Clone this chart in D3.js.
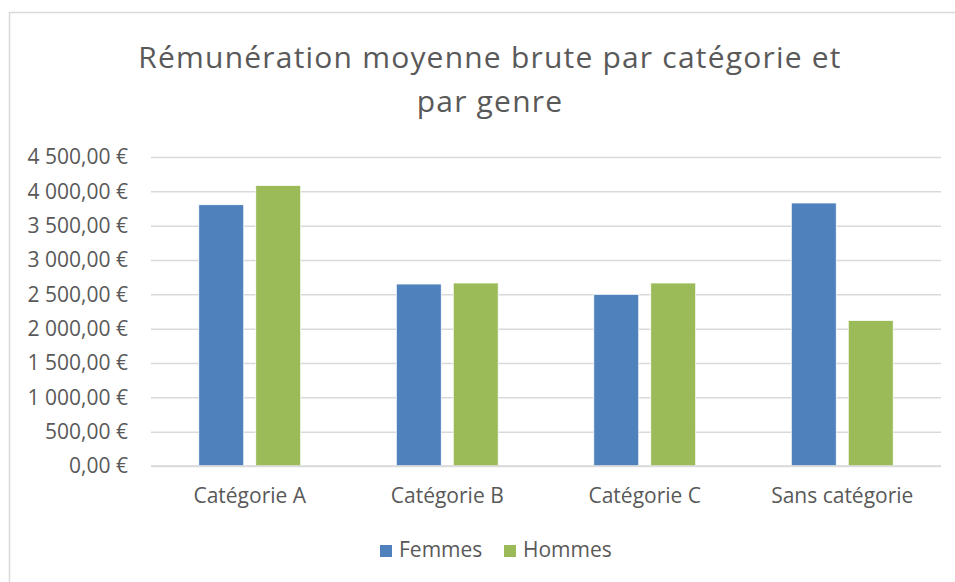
<!DOCTYPE html>
<html>
<head>
<meta charset="utf-8">
<script src="https://cdn.jsdelivr.net/npm/d3@7"></script>
<style>
  html, body { margin: 0; padding: 0; background: #fff; }
  svg { display: block; font-family: "Open Sans", "Noto Sans", sans-serif; }
</style>
</head>
<body>
<svg id="chart" width="955" height="582"></svg>
<script>
'use strict';

// Chart data
var categories = ['Catégorie A', 'Catégorie B', 'Catégorie C', 'Sans catégorie'];
var series_names = ['Femmes', 'Hommes'];
var femmes_values = [3805, 2650, 2500, 3830];
var hommes_values = [4085, 2665, 2665, 2120];
var y_ticks = [0, 500, 1000, 1500, 2000, 2500, 3000, 3500, 4000, 4500];
var title_lines = ['Rémunération moyenne brute par catégorie et', 'par genre'];

var colours = { Femmes: '#4f81bd', Hommes: '#9bbb59' };
var text_colour = '#595959';
var label_size = '21px';

var svg = d3.select('#chart');
var plot = { left: 151, right: 941, top: 157, bottom: 466 };

// Outer chart frame
svg.append('rect')
	.attr('x', 9.5).attr('y', 12.5)
	.attr('width', 960).attr('height', 600)
	.attr('fill', '#fff')
	.attr('stroke', '#d9d9d9')
	.attr('stroke-width', 1.5);

// Title
svg.append('text')
	.attr('x', 490).attr('y', 68)
	.attr('text-anchor', 'middle')
	.attr('fill', text_colour)
	.style('font-size', '30px')
	.style('letter-spacing', '1.2px')
	.selectAll('tspan')
	.data(title_lines)
	.enter().append('tspan')
	.attr('x', 490)
	.attr('dy', function(d, i) { return i === 0 ? 0 : 44; })
	.text(function(d) { return d; });

var y_scale = d3.scaleLinear()
	.domain([0, 4500])
	.range([plot.bottom, plot.top]);

var x_scale = d3.scaleBand()
	.domain(categories)
	.range([plot.left, plot.right])
	.paddingInner(0.484)
	.paddingOuter(0.242);

var x_sub = d3.scaleBand()
	.domain(series_names)
	.range([0, x_scale.bandwidth()])
	.paddingInner(0.211);

// Euro formatting, French style
function euro(v) {
	var parts = v.toFixed(2).split('.');
	var int_part = parts[0].replace(/\B(?=(\d{3})+(?!\d))/g, ' ');
	return int_part + ',' + parts[1] + ' €';
}

// Gridlines and y labels
var y_axis = d3.axisLeft(y_scale)
	.tickValues(y_ticks)
	.tickSize(-(plot.right - plot.left))
	.tickPadding(23)
	.tickFormat(euro);

var y_axis_g = svg.append('g')
	.attr('transform', 'translate(' + plot.left + ',0)')
	.call(y_axis);
y_axis_g.select('.domain').remove();
y_axis_g.selectAll('line')
	.attr('stroke', '#d9d9d9')
	.attr('stroke-width', 1.5);
y_axis_g.selectAll('text')
	.attr('fill', text_colour)
	.style('font-size', label_size)
	.style('font-family', '"Open Sans", sans-serif');

// Bars
var rows = categories.map(function(c, i) {
	return { category: c, values: [
		{ name: 'Femmes', value: femmes_values[i] },
		{ name: 'Hommes', value: hommes_values[i] }
	] };
});

var groups = svg.selectAll('g.group')
	.data(rows)
	.enter().append('g')
	.attr('class', 'group')
	.attr('transform', function(d) { return 'translate(' + x_scale(d.category) + ',0)'; });

groups.selectAll('rect')
	.data(function(d) { return d.values; })
	.enter().append('rect')
	.attr('x', function(d) { return x_sub(d.name); })
	.attr('y', function(d) { return y_scale(d.value); })
	.attr('width', x_sub.bandwidth())
	.attr('height', function(d) { return y_scale(0) - y_scale(d.value); })
	.attr('fill', function(d) { return colours[d.name]; })
	.attr('stroke', '#fff')
	.attr('stroke-width', 0.75);

// Baseline redrawn over the bars
svg.append('line')
	.attr('x1', plot.left).attr('x2', plot.right)
	.attr('y1', y_scale(0)).attr('y2', y_scale(0))
	.attr('stroke', '#d9d9d9')
	.attr('stroke-width', 1.5);

// Category labels
var x_axis = d3.axisBottom(x_scale).tickSize(0).tickPadding(22);
var x_axis_g = svg.append('g')
	.attr('transform', 'translate(0,' + plot.bottom + ')')
	.call(x_axis);
x_axis_g.select('.domain').remove();
x_axis_g.selectAll('text')
	.attr('fill', text_colour)
	.style('font-size', label_size)
	.style('font-family', '"Open Sans", sans-serif');

// Legend
var legend_x = [380, 504];
var legend = svg.selectAll('g.legend')
	.data(series_names)
	.enter().append('g')
	.attr('class', 'legend')
	.attr('transform', function(d, i) { return 'translate(' + legend_x[i] + ',545)'; });

legend.append('rect')
	.attr('width', 12).attr('height', 12)
	.attr('fill', function(d) { return colours[d]; });

legend.append('text')
	.attr('x', 19).attr('y', 12)
	.attr('fill', text_colour)
	.style('font-size', label_size)
	.text(function(d) { return d; });
</script>
</body>
</html>
